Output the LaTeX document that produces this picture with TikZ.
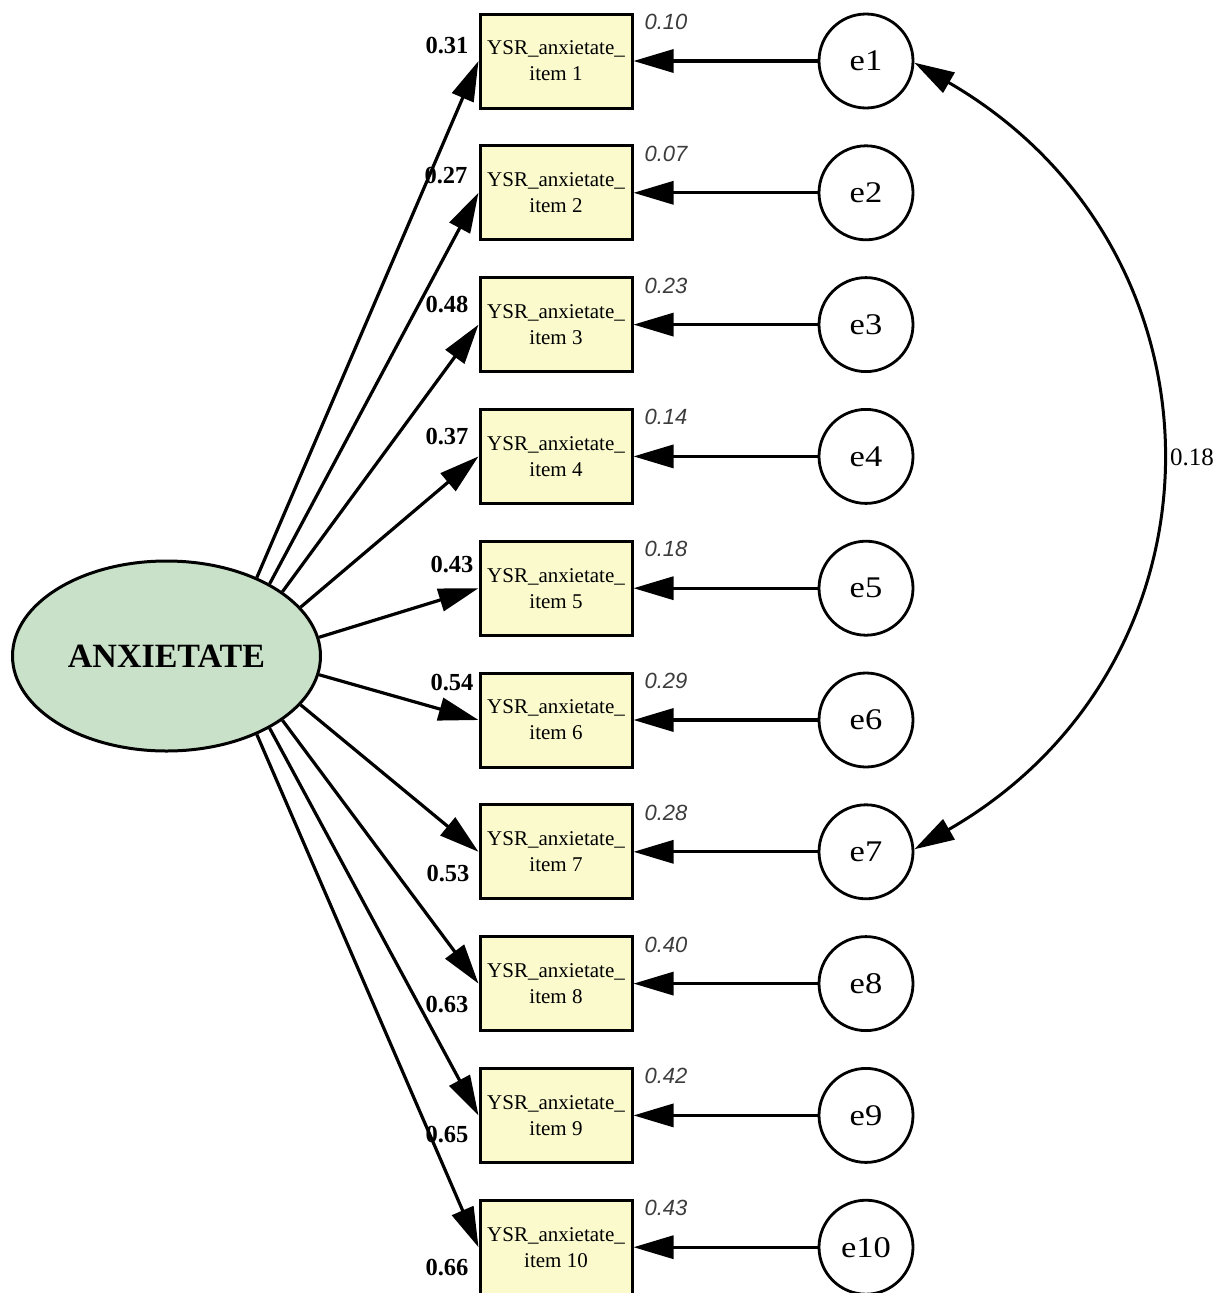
\documentclass[tikz,border=0pt]{standalone}
\usepackage{fontspec}
\setmainfont{Liberation Serif}
\newfontfamily\varfont{Liberation Sans}
\newfontfamily\efont[FakeStretch=1.15]{Liberation Serif}
\usetikzlibrary{arrows.meta,shapes.geometric}
\definecolor{itemfill}{RGB}{250,250,205}
\definecolor{latentfill}{RGB}{200,225,200}
\definecolor{vargray}{RGB}{60,60,60}
\tikzset{
  itembox/.style={draw, line width=3pt, fill=itemfill, minimum width=152pt,
    minimum height=94pt, inner sep=0pt, align=center,
    font=\fontsize{21}{26}\selectfont},
  errnode/.style={draw, circle, line width=2.8pt, minimum size=94pt, inner sep=0pt,
    font=\efont\fontsize{30}{30}\selectfont},
  latent/.style={draw, ellipse, line width=3pt, fill=latentfill, minimum width=308pt,
    minimum height=190pt, inner sep=0pt, font=\bfseries\fontsize{34}{34}\selectfont},
  regarrow/.style={line width=3.2pt, -{Triangle[length=40pt,width=23pt]}},
  covarrow/.style={line width=3pt, {Triangle[length=40pt,width=23pt]}-{Triangle[length=40pt,width=23pt]}},
  loadlab/.style={font=\bfseries\fontsize{24.5}{24.5}\selectfont, inner sep=0pt},
  varlab/.style={font=\varfont\itshape\fontsize{22}{22}\selectfont, text=vargray, inner sep=0pt},
  covlab/.style={font=\fontsize{25}{25}\selectfont, inner sep=0pt},
}
\begin{document}
\begin{tikzpicture}[x=1pt,y=-1pt]
  \useasboundingbox (0,0) rectangle (1228,1293);
  \fill[white] (0,0) rectangle (1228,1293);

  % latent factor
  \node[latent] (anx) at (166.5,656) {ANXIETATE};

  % indicators, error terms, loadings and residual variances
  \foreach \i/\ang/\ld/\lx/\ly/\vr in {
      1/41/0.31/447/45.5/0.10,
      2/35/0.27/446/176/0.07,
      3/29/0.48/447/305/0.23,
      4/20/0.37/447/437/0.14,
      5/7/0.43/452/565/0.18,
      6/-7/0.54/452/683/0.29,
      7/-20/0.53/448/874/0.28,
      8/-29/0.63/447/1005/0.40,
      9/-35/0.65/447/1135/0.42,
      10/-41/0.66/447/1268/0.43} {
    \pgfmathsetmacro{\yc}{61+(\i-1)*131.8}
    \node[itembox] (b\i) at (556,\yc) {YSR\_anxietate\_\\item \i};
    \node[errnode] (e\i) at (866,\yc) {e\i};
    \draw[regarrow] (e\i) -- (b\i);
    \draw[regarrow] (anx.\ang) -- (b\i.west);
    \node[loadlab] (l\i) at (\lx,\ly) {\ld};
    \node[varlab] (v\i) at (666,\yc-39) {\vr};
  }

  % residual covariance between e1 and e7
  \draw[covarrow] (e1.-2) .. controls (1238,250) and (1238,663) .. (e7.3);
  \node[covlab] (cov) at (1192,457) {0.18};
\end{tikzpicture}
\end{document}
